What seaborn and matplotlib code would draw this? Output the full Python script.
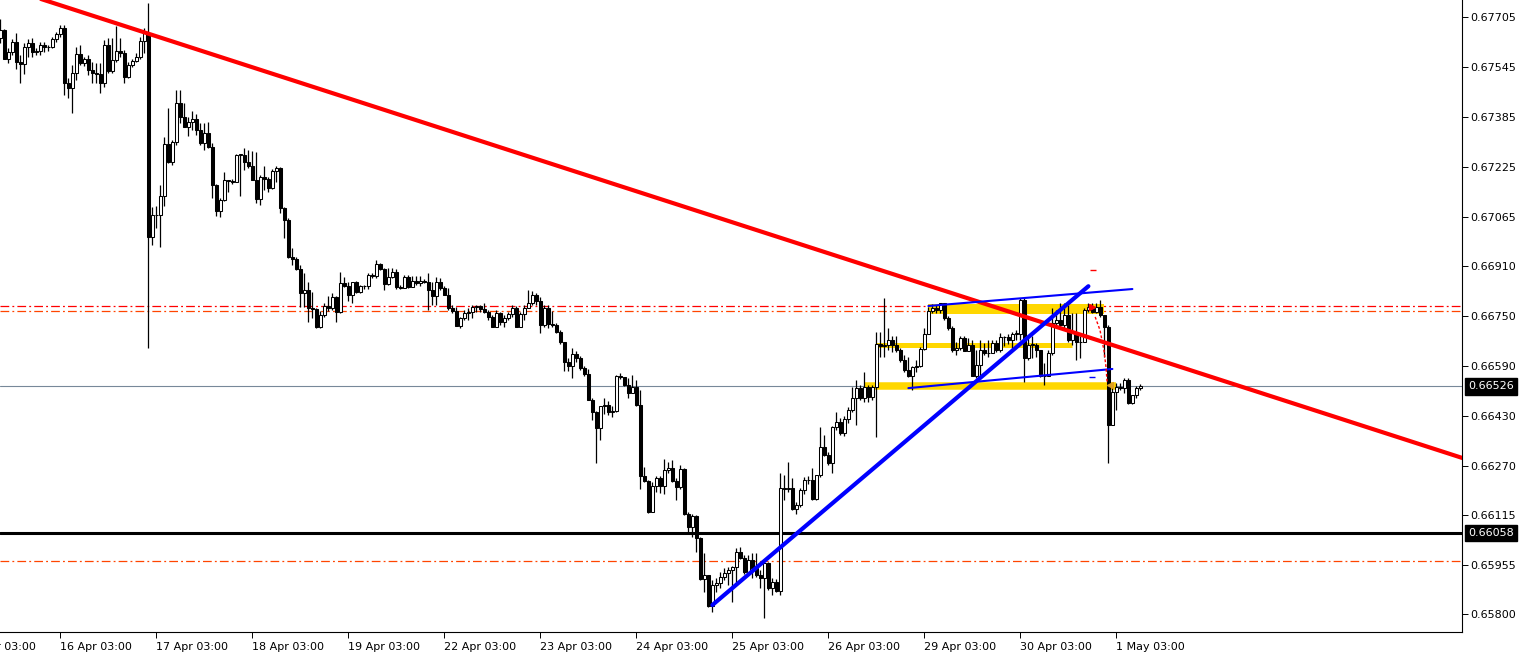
"""
AUDUSD H1 chart - candles with trendlines, zones and levels
Output : out.png
"""

import numpy as np
import matplotlib
matplotlib.use("Agg")
import matplotlib.pyplot as plt
import matplotlib.transforms as mtransforms
import seaborn as sns

# ── Data (prices in points, 1 point = 0.00001) ────────────────────────────────
OPEN_FIRST = 67637

CLOSE = [
    67662, 67570, 67592, 67624, 67560, 67554, 67608, 67621, 67592, 67595,
    67614, 67608, 67608, 67634, 67650, 67669, 67493, 67477, 67525, 67586,
    67557, 67570, 67535, 67525, 67522, 67493, 67614, 67532, 67567, 67595,
    67589, 67512, 67551, 67563, 67576, 67627, 67653, 67002, 67072, 67072,
    67133, 67299, 67241, 67305, 67429, 67384, 67353, 67369, 67378, 67343,
    67302, 67334, 67289, 67168, 67085, 67120, 67184, 67181, 67177, 67264,
    67264, 67241, 67229, 67184, 67123, 67194, 67187, 67158, 67213, 67223,
    67094, 67056, 66938, 66932, 66900, 66823, 66833, 66775, 66772, 66715,
    66753, 66782, 66775, 66810, 66763, 66855, 66846, 66817, 66858, 66826,
    66846, 66846, 66881, 66878, 66916, 66900, 66852, 66874, 66890, 66842,
    66839, 66874, 66842, 66862, 66855, 66862, 66858, 66833, 66814, 66858,
    66839, 66817, 66775, 66766, 66718, 66744, 66760, 66763, 66779, 66782,
    66772, 66763, 66747, 66715, 66760, 66731, 66744, 66756, 66775, 66715,
    66756, 66775, 66791, 66817, 66798, 66721, 66775, 66725, 66721, 66699,
    66667, 66603, 66591, 66629, 66616, 66584, 66565, 66482, 66444, 66393,
    66463, 66466, 66444, 66447, 66559, 66555, 66530, 66505, 66524, 66466,
    66240, 66223, 66125, 66207, 66233, 66207, 66258, 66265, 66223, 66204,
    66262, 66118, 66077, 66112, 66042, 65911, 65924, 65825, 65892, 65898,
    65917, 65930, 65940, 65949, 65997, 65978, 65933, 65972, 65946, 65924,
    65914, 65962, 65882, 65901, 65873, 66201, 66198, 66201, 66134, 66147,
    66195, 66226, 66226, 66166, 66242, 66332, 66306, 66281, 66396, 66412,
    66377, 66421, 66450, 66489, 66521, 66489, 66524, 66492, 66524, 66661,
    66655, 66658, 66674, 66658, 66642, 66610, 66578, 66559, 66588, 66591,
    66645, 66693, 66766, 66775, 66769, 66791, 66744, 66712, 66642, 66648,
    66680, 66639, 66658, 66559, 66594, 66642, 66632, 66632, 66664, 66642,
    66683, 66683, 66674, 66693, 66693, 66801, 66616, 66658, 66658, 66642,
    66559, 66559, 66632, 66728, 66737, 66721, 66753, 66674, 66696, 66667,
    66667, 66769, 66779, 66763, 66779, 66753, 66715, 66402, 66508, 66524,
    66521, 66546, 66472, 66498, 66521, 66526,
]

HIGH = [
    67697, 67665, 67605, 67634, 67653, 67583, 67621, 67634, 67637, 67605,
    67624, 67624, 67614, 67640, 67656, 67678, 67678, 67509, 67551, 67608,
    67614, 67576, 67583, 67560, 67557, 67557, 67630, 67637, 67637, 67675,
    67637, 67598, 67560, 67570, 67589, 67640, 67669, 67748, 67098, 67101,
    67168, 67321, 67413, 67312, 67471, 67471, 67429, 67384, 67404, 67394,
    67366, 67366, 67369, 67302, 67171, 67126, 67209, 67184, 67187, 67267,
    67264, 67286, 67279, 67276, 67273, 67200, 67229, 67194, 67219, 67229,
    67226, 67098, 67063, 66967, 66938, 66913, 66887, 66858, 66826, 66775,
    66766, 66791, 66814, 66823, 66814, 66890, 66874, 66858, 66858, 66861,
    66849, 66849, 66887, 66887, 66929, 66919, 66903, 66903, 66903, 66900,
    66849, 66881, 66881, 66878, 66878, 66878, 66868, 66887, 66858, 66874,
    66871, 66846, 66839, 66785, 66779, 66747, 66769, 66775, 66785, 66785,
    66785, 66791, 66769, 66753, 66769, 66763, 66753, 66763, 66785, 66782,
    66763, 66785, 66833, 66830, 66823, 66810, 66785, 66785, 66766, 66728,
    66705, 66667, 66616, 66648, 66639, 66623, 66591, 66581, 66489, 66447,
    66463, 66489, 66479, 66463, 66562, 66568, 66555, 66552, 66562, 66546,
    66514, 66268, 66226, 66220, 66239, 66239, 66293, 66284, 66290, 66233,
    66274, 66265, 66125, 66118, 66115, 66045, 65994, 65920, 65908, 65914,
    65933, 65946, 65949, 65952, 66010, 66013, 65988, 65988, 65994, 65994,
    65940, 65972, 65965, 65914, 65911, 66249, 66242, 66284, 66233, 66156,
    66201, 66236, 66239, 66265, 66242, 66396, 66370, 66316, 66399, 66444,
    66425, 66431, 66460, 66524, 66546, 66530, 66571, 66530, 66530, 66699,
    66699, 66808, 66712, 66686, 66686, 66648, 66626, 66620, 66591, 66610,
    66651, 66712, 66779, 66788, 66785, 66791, 66791, 66750, 66718, 66667,
    66686, 66686, 66680, 66674, 66642, 66674, 66664, 66674, 66674, 66674,
    66696, 66686, 66693, 66699, 66705, 66808, 66808, 66686, 66686, 66664,
    66626, 66600, 66642, 66775, 66769, 66791, 66791, 66785, 66760, 66760,
    66686, 66775, 66791, 66791, 66791, 66801, 66747, 66721, 66524, 66536,
    66536, 66552, 66552, 66495, 66527, 66533,
]

LOW = [
    67621, 67570, 67557, 67583, 67538, 67493, 67522, 67576, 67576, 67583,
    67583, 67592, 67595, 67605, 67624, 67640, 67455, 67445, 67398, 67503,
    67551, 67547, 67519, 67493, 67493, 67461, 67480, 67525, 67525, 67560,
    67576, 67493, 67509, 67544, 67560, 67570, 67589, 66648, 66976, 67031,
    66970, 67101, 67238, 67232, 67295, 67366, 67353, 67324, 67343, 67327,
    67295, 67279, 67286, 67126, 67069, 67066, 67117, 67145, 67171, 67177,
    67133, 67216, 67223, 67184, 67110, 67104, 67152, 67145, 67155, 67178,
    67079, 66999, 66935, 66913, 66897, 66779, 66779, 66731, 66744, 66712,
    66712, 66747, 66766, 66769, 66731, 66760, 66842, 66798, 66791, 66823,
    66823, 66836, 66836, 66871, 66871, 66897, 66833, 66849, 66871, 66836,
    66836, 66839, 66839, 66842, 66849, 66846, 66855, 66769, 66785, 66785,
    66833, 66817, 66769, 66760, 66718, 66712, 66737, 66737, 66744, 66763,
    66763, 66760, 66737, 66715, 66715, 66721, 66715, 66737, 66747, 66715,
    66715, 66737, 66775, 66785, 66785, 66696, 66715, 66712, 66715, 66696,
    66661, 66575, 66575, 66552, 66603, 66578, 66559, 66482, 66418, 66281,
    66354, 66437, 66434, 66428, 66444, 66549, 66527, 66489, 66505, 66463,
    66198, 66220, 66122, 66125, 66188, 66185, 66182, 66249, 66220, 66163,
    66198, 66115, 66058, 66045, 65997, 65908, 65870, 65822, 65806, 65870,
    65882, 65908, 65892, 65838, 65898, 65975, 65927, 65924, 65914, 65917,
    65882, 65787, 65876, 65860, 65870, 65860, 66163, 66188, 66131, 66118,
    66141, 66182, 66214, 66163, 66163, 66236, 66303, 66275, 66249, 66386,
    66370, 66367, 66409, 66444, 66402, 66482, 66476, 66476, 66482, 66364,
    66619, 66619, 66642, 66636, 66636, 66603, 66571, 66555, 66514, 66571,
    66588, 66642, 66693, 66760, 66760, 66760, 66737, 66705, 66636, 66626,
    66642, 66639, 66639, 66559, 66552, 66555, 66626, 66620, 66632, 66636,
    66636, 66655, 66661, 66642, 66674, 66674, 66539, 66610, 66616, 66620,
    66555, 66530, 66559, 66626, 66718, 66715, 66712, 66667, 66658, 66610,
    66616, 66667, 66763, 66760, 66760, 66747, 66620, 66281, 66402, 66450,
    66514, 66505, 66469, 66469, 66489, 66514,
]

# bar index of each 03:00 label (bar 0 = 15 Apr 12:00)
DAY_BARS = [-9, 15, 39, 63, 87, 111, 135, 159, 183, 207, 231, 255, 279]
DAY_LABELS = ["15 Apr 03:00", "16 Apr 03:00", "17 Apr 03:00", "18 Apr 03:00",
              "19 Apr 03:00", "22 Apr 03:00", "23 Apr 03:00", "24 Apr 03:00",
              "25 Apr 03:00", "26 Apr 03:00", "29 Apr 03:00", "30 Apr 03:00",
              "1 May 03:00"]

PRICE_TICKS = [0.67705, 0.67545, 0.67385, 0.67225, 0.67065, 0.66910, 0.66750,
               0.66590, 0.66430, 0.66270, 0.66115, 0.65955, 0.65800]

BID_PRICE     = 0.66526
SUPPORT_PRICE = 0.66058
RED_LEVEL     = 0.66782
ORANGE_LEVELS = [0.66766, 0.65968]

RED_TREND_X  = [9, 366]
RED_TREND_Y  = [0.67766, 0.66295]
BLUE_TREND_X = [178, 272]
BLUE_TREND_Y = [0.65828, 0.66845]
CHAN_UP_X    = [232, 283]
CHAN_UP_Y    = [0.66782, 0.66836]
CHAN_LO_X    = [227, 278]
CHAN_LO_Y    = [0.66520, 0.66581]

ZONE_START = [232, 219, 216]
ZONE_END   = [276, 268, 279]
ZONE_PRICE = [0.66771, 0.66656, 0.66527]

PATH_X = [273.7, 274.9, 275.9, 276.4, 276.7]
PATH_Y = [0.66747, 0.66705, 0.66640, 0.66588, 0.66536]

# ── Style ──────────────────────────────────────────────────────────────────────
sns.set_theme(style="white")
plt.rcParams["font.family"] = ["DejaVu Sans"]

fig = plt.figure(figsize=(15.26, 6.58), dpi=100)
ax = fig.add_axes([0, 26 / 658, 1462 / 1526, 632 / 658])

close = np.array(CLOSE) / 1e5
high = np.array(HIGH) / 1e5
low = np.array(LOW) / 1e5
open_ = np.array([OPEN_FIRST] + CLOSE[:-1]) / 1e5
idx = np.arange(len(close))
up = close >= open_

body_lo = np.minimum(open_, close)
body_h = np.maximum(np.abs(close - open_), 0.000012)

# ── Horizontal levels (behind candles) ────────────────────────────────────────
dashdot = (0, (7, 2.5, 1.5, 2.5))
ax.axhline(RED_LEVEL, color="#FF0000", lw=0.9, linestyle=dashdot, zorder=1)
for lvl in ORANGE_LEVELS:
    ax.axhline(lvl, color="#FF4500", lw=0.9, linestyle=dashdot, zorder=1)
ax.axhline(BID_PRICE, color="#778899", lw=0.8, zorder=1)
ax.axhline(SUPPORT_PRICE, color="black", lw=2.2, zorder=1)

# yellow zones
for x0, x1, p, w in zip(ZONE_START, ZONE_END, ZONE_PRICE, [7.2, 3.6, 5.4]):
    ax.plot([x0, x1], [p, p], color="#FFD700", lw=w, solid_capstyle="butt", zorder=2)

# ── Candles ───────────────────────────────────────────────────────────────────
ax.vlines(idx, np.minimum(low, body_lo), np.maximum(high, body_lo + body_h),
          color="black", lw=0.9, zorder=3)
ax.bar(idx[up], body_h[up], bottom=body_lo[up], width=0.68, color="white",
       edgecolor="black", linewidth=0.75, zorder=4)
ax.bar(idx[~up], body_h[~up], bottom=body_lo[~up], width=0.68, color="black",
       edgecolor="black", linewidth=0.75, zorder=4)

# ── Trendlines (on top) ───────────────────────────────────────────────────────
sns.lineplot(x=RED_TREND_X, y=RED_TREND_Y, ax=ax, color="#FF0000", lw=3,
             sort=False, zorder=6)
sns.lineplot(x=BLUE_TREND_X, y=BLUE_TREND_Y, ax=ax, color="#0000FF", lw=3,
             sort=False, zorder=6)
sns.lineplot(x=CHAN_UP_X, y=CHAN_UP_Y, ax=ax, color="#0000FF", lw=1.5,
             sort=False, zorder=6)
sns.lineplot(x=CHAN_LO_X, y=CHAN_LO_Y, ax=ax, color="#0000FF", lw=1.5,
             sort=False, zorder=6)

# trade markers
ax.plot(PATH_X, PATH_Y, color="#FF0000", lw=1, linestyle=(0, (2, 1.5)), zorder=7)
ax.plot([272.8], [0.66778], marker=">", color="#FF0000", ms=4, zorder=7)
ax.plot([273.2], [0.66897], marker="_", color="#FF0000", ms=5, mew=1, zorder=7)
ax.plot([273.0], [0.66555], marker="_", color="#0000FF", ms=5, mew=1, zorder=7)
ax.plot([277.3], [0.66530], marker="<", color="#E0A020", ms=4, zorder=7)

# ── Axes ──────────────────────────────────────────────────────────────────────
ax.set_xlim(-0.08, 365.4)
ax.set_ylim(0.65742, 0.67758)
ax.set_facecolor("white")
for side in ["top", "left"]:
    ax.spines[side].set_visible(False)
for side in ["right", "bottom"]:
    ax.spines[side].set_color("black")
    ax.spines[side].set_linewidth(0.8)

ax.yaxis.tick_right()
ax.set_yticks(PRICE_TICKS)
ax.set_yticklabels([f"{p:.5f}" for p in PRICE_TICKS])
ax.tick_params(axis="y", length=4, width=0.7, pad=2, labelsize=8,
               colors="black", right=True, left=False)

ax.set_xticks(DAY_BARS[1:])
ax.set_xticklabels(DAY_LABELS[1:], ha="left")
ax.tick_params(axis="x", length=4, width=0.7, pad=3, labelsize=8,
               colors="black", bottom=True)
# the first day label is cut by the left edge, as in the terminal window
xtrans = mtransforms.blended_transform_factory(ax.transData, ax.transAxes)
ax.text(DAY_BARS[0], -0.0165, DAY_LABELS[0], transform=xtrans, ha="left",
        va="top", fontsize=8, color="black", clip_on=False)

ax.set_xlabel("")
ax.set_ylabel("")
ax.grid(False)

# price boxes on the right scale
ytrans = mtransforms.blended_transform_factory(ax.transAxes, ax.transData)
box_trans = mtransforms.offset_copy(ytrans, fig=fig, x=6, y=0, units="dots")
for p in [BID_PRICE, SUPPORT_PRICE]:
    ax.text(1.0, p, f"{p:.5f}", transform=box_trans, ha="left", va="center",
            fontsize=8, color="white", clip_on=False,
            bbox=dict(boxstyle="square,pad=0.3", fc="black", ec="black"))

fig.savefig("out.png", dpi=100, facecolor="white")
